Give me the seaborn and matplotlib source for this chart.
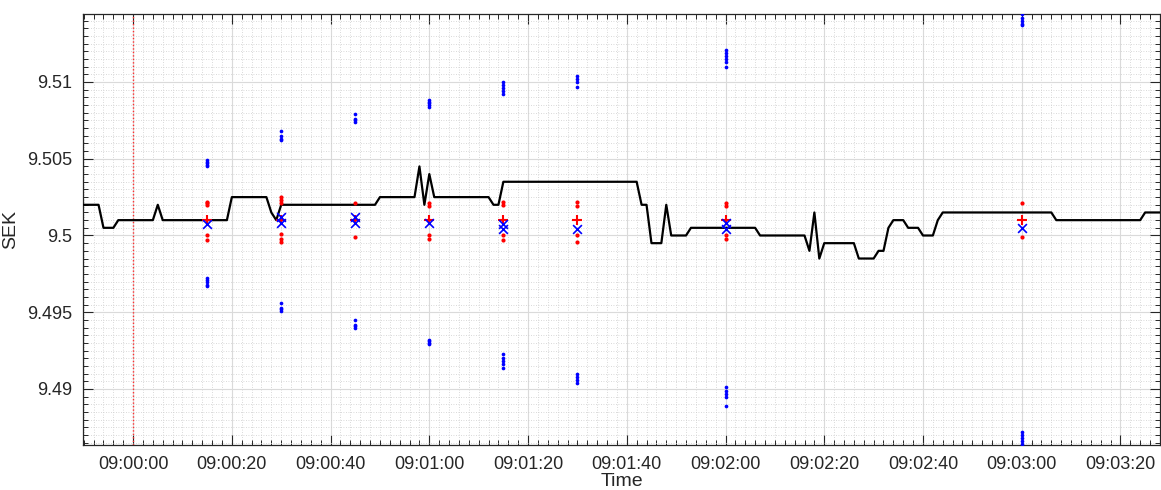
import numpy as np
import pandas as pd
import matplotlib
matplotlib.use("Agg")
import matplotlib.pyplot as plt
from matplotlib.ticker import MultipleLocator, FixedLocator
import seaborn as sns

# ---------------- data (seconds after 09:00:00) ----------------
price_t = [-10, -7, -6, -4, -3, 4, 5, 6, 19, 20, 27, 28, 29, 30, 49, 50, 57, 58, 59, 60,
           61, 72, 73, 74, 75, 102, 103, 104, 105, 107, 108, 109, 112, 113, 126, 127, 136,
           137, 138, 139, 140, 146, 147, 150, 151, 152, 153, 154, 156, 157, 159, 160, 162,
           163, 164, 186, 187, 204, 205, 208]
price_v = [9.502, 9.502, 9.5005, 9.5005, 9.501, 9.501, 9.502, 9.501, 9.501, 9.5025,
           9.5025, 9.5015, 9.501, 9.502, 9.502, 9.5025, 9.5025, 9.5045, 9.502, 9.504,
           9.5025, 9.5025, 9.502, 9.502, 9.5035, 9.5035, 9.502, 9.502, 9.4995, 9.4995,
           9.502, 9.5, 9.5, 9.5005, 9.5005, 9.5, 9.5,
           9.499, 9.5015, 9.4985, 9.4995, 9.4995, 9.4985, 9.4985, 9.499, 9.499, 9.5005,
           9.501, 9.501, 9.5005, 9.5005, 9.5, 9.5,
           9.501, 9.5015, 9.5015, 9.501, 9.501, 9.5015, 9.5015]

# forecast horizons
plus_t = [15, 30, 45, 60, 75, 90, 120, 180]
plus_v = [9.501, 9.501, 9.501, 9.501, 9.501, 9.501, 9.501, 9.501]

cross_t = [15, 30, 30, 45, 45, 60, 75, 75, 90, 120, 120, 180]
cross_v = [9.50077, 9.50118, 9.50082, 9.50118, 9.50082, 9.50082, 9.50072, 9.50045,
           9.50044, 9.50080, 9.50042, 9.50050]

red_t = [15, 15, 15, 15, 15,
         30, 30, 30, 30, 30, 30,
         45, 45,
         60, 60, 60, 60,
         75, 75, 75, 75,
         90, 90, 90, 90,
         120, 120, 120, 120,
         180, 180]
red_v = [9.5020, 9.5021, 9.5022, 9.4997, 9.5000,
         9.5021, 9.5023, 9.5025, 9.5001, 9.4998, 9.4996,
         9.5021, 9.4999,
         9.5019, 9.5021, 9.4998, 9.5000,
         9.5020, 9.5022, 9.4997, 9.5000,
         9.5019, 9.5022, 9.4996, 9.5000,
         9.5019, 9.5021, 9.4998, 9.5000,
         9.5021, 9.4999]

blue_t = [15] * 10 + [30] * 8 + [45] * 8 + [60] * 9 + [75] * 10 + [90] * 8 + [120] * 11 + [180] * 10
blue_v = [9.5045, 9.5046, 9.5047, 9.5048, 9.5049, 9.4967, 9.4968, 9.4970, 9.4971, 9.4972,
          9.5068, 9.5065, 9.5063, 9.5062, 9.4956, 9.4953, 9.4952, 9.4951,
          9.5079, 9.5076, 9.5075, 9.5074, 9.4945, 9.4942, 9.4941, 9.4940,
          9.5088, 9.5087, 9.5086, 9.5085, 9.5084, 9.4932, 9.4931, 9.4930, 9.4929,
          9.5100, 9.5098, 9.5096, 9.5094, 9.5092, 9.4923, 9.4920, 9.4918, 9.4916, 9.4914,
          9.5104, 9.5102, 9.5100, 9.5097, 9.4910, 9.4908, 9.4906, 9.4904,
          9.5121, 9.5119, 9.5117, 9.5115, 9.5113, 9.5110, 9.4901, 9.4899, 9.4897, 9.4895, 9.4889,
          9.5144, 9.5142, 9.5140, 9.5138, 9.5137, 9.4872, 9.4870, 9.4868, 9.4866, 9.4864]

x_ticks = [0, 20, 40, 60, 80, 100, 120, 140, 160, 180, 200]
x_tick_labels = ["09:00:00", "09:00:20", "09:00:40", "09:01:00", "09:01:20", "09:01:40",
                 "09:02:00", "09:02:20", "09:02:40", "09:03:00", "09:03:20"]
y_ticks = [9.49, 9.495, 9.5, 9.505, 9.51]
y_tick_labels = ["9.49", "9.495", "9.5", "9.505", "9.51"]

# ---------------- style ----------------
sns.set_style("white")
TXT = "#262626"
plt.rcParams["font.family"] = ["Liberation Sans", "DejaVu Sans"]
plt.rcParams["text.color"] = TXT
plt.rcParams["axes.labelcolor"] = TXT
plt.rcParams["xtick.color"] = TXT
plt.rcParams["ytick.color"] = TXT

fig = plt.figure(figsize=(11.61, 4.90), dpi=100)
ax = fig.add_axes([0.0717, 0.0918, 0.9274, 0.879])

price_df = pd.DataFrame({"t": price_t, "v": price_v})
plus_df = pd.DataFrame({"t": plus_t, "v": plus_v})
cross_df = pd.DataFrame({"t": cross_t, "v": cross_v})
red_df = pd.DataFrame({"t": red_t, "v": red_v})
blue_df = pd.DataFrame({"t": blue_t, "v": blue_v})

ax.axvline(0, color="#ff3030", linestyle=(0, (1, 1.5)), linewidth=1.0, zorder=2)

sns.lineplot(data=price_df, x="t", y="v", ax=ax, color="black", linewidth=1.6,
             sort=False, estimator=None, zorder=3)
sns.scatterplot(data=blue_df, x="t", y="v", ax=ax, color="blue", marker="o", s=7,
                linewidth=0, zorder=4)
sns.scatterplot(data=red_df, x="t", y="v", ax=ax, color="red", marker="o", s=9,
                linewidth=0, zorder=4)
sns.scatterplot(data=plus_df, x="t", y="v", ax=ax, color="red", marker="+", s=60,
                linewidth=1.5, zorder=5)
sns.scatterplot(data=cross_df, x="t", y="v", ax=ax, color="blue", marker="x", s=40,
                linewidth=1.2, zorder=6)

ax.set_xlim(-10.1, 208.0)
ax.set_ylim(9.48635, 9.51441)

ax.xaxis.set_major_locator(FixedLocator(x_ticks))
ax.set_xticklabels(x_tick_labels)
ax.xaxis.set_minor_locator(MultipleLocator(2))
ax.yaxis.set_major_locator(FixedLocator(y_ticks))
ax.set_yticklabels(y_tick_labels)
ax.yaxis.set_minor_locator(MultipleLocator(0.0005))

ax.grid(True, which="major", color="#dadada", linewidth=0.8, linestyle="-")
ax.grid(True, which="minor", color="#cdcdcd", linewidth=0.6, linestyle=(0, (1, 2)))
ax.set_axisbelow(True)

ax.tick_params(which="both", direction="in", top=True, right=True, color=TXT,
               labelsize=13, bottom=True, left=True)
ax.tick_params(axis="x", which="major", length=7, width=0.8, pad=8)
ax.tick_params(axis="y", which="major", length=7, width=0.8, pad=8)
ax.tick_params(which="minor", length=3.5, width=0.7)

for sp in ax.spines.values():
    sp.set_visible(True)
    sp.set_color(TXT)
    sp.set_linewidth(0.9)

ax.set_xlabel("Time", fontsize=14, labelpad=0)
ax.set_ylabel("SEK", fontsize=14, labelpad=6)

fig.savefig("out.png", dpi=100)
